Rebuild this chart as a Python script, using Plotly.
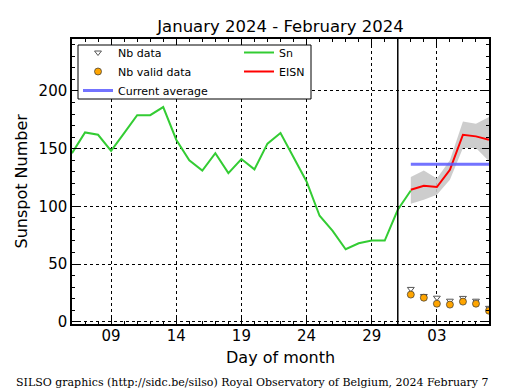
import plotly.graph_objects as go

# ---- data ----
sn_dates = ["2024-01-%02d" % d for d in range(6, 32)] + ["2024-02-01"]
sn_values = [146, 164, 162, 148, 163.5, 179, 179, 186, 157.7, 139.8, 131, 146,
             128.8, 141, 132, 154.3, 163.5, 142, 121.5, 91.8, 78.7, 62.8, 68,
             70.3, 70.3, 97, 113.7]

eisn_dates = ["2024-02-%02d" % d for d in range(1, 8)]
eisn_values = [114.3, 117.8, 116.7, 131.7, 162, 160.6, 157.7]
eisn_upper = [125.3, 131, 124, 140, 173.6, 171.6, 177.4]
eisn_lower = [102.2, 105.6, 110, 123, 150.5, 150.5, 139]

nb_data = [28.4, 22.3, 20.8, 18.2, 20.6, 18.2, 12]
nb_valid = [23.5, 20.8, 15.6, 14.8, 17.4, 15.6, 9.5]

avg_dates = ["2024-02-01", "2024-02-07 12:00"]
avg_values = [136.5, 136.5]

month_boundary = "2024-01-31"

FONT = "DejaVu Sans"
W, H = 507, 382  # page body has an 8px margin

fig = go.Figure()

# uncertainty band
fig.add_trace(go.Scatter(x=eisn_dates, y=eisn_lower, mode="lines",
                         line=dict(width=0, color="rgba(0,0,0,0)"),
                         showlegend=False, hoverinfo="skip"))
fig.add_trace(go.Scatter(x=eisn_dates, y=eisn_upper, mode="lines", fill="tonexty",
                         fillcolor="rgba(200,200,200,0.9)",
                         line=dict(width=0, color="rgba(0,0,0,0)"),
                         showlegend=False, hoverinfo="skip"))

fig.add_trace(go.Scatter(x=sn_dates, y=sn_values, mode="lines", name="Sn",
                         line=dict(color="#33cc33", width=2), legendrank=2))
fig.add_trace(go.Scatter(x=eisn_dates, y=eisn_values, mode="lines", name="EISN",
                         line=dict(color="#ff0000", width=2), legendrank=4))
fig.add_trace(go.Scatter(x=avg_dates, y=avg_values, mode="lines", name="Current average",
                         line=dict(color="rgba(90,90,255,0.85)", width=3), legendrank=5))
fig.add_trace(go.Scatter(x=eisn_dates, y=nb_data, mode="markers", name="Nb data",
                         marker=dict(symbol="triangle-down", size=6, color="white",
                                     line=dict(color="#555555", width=1)), legendrank=1))
fig.add_trace(go.Scatter(x=eisn_dates, y=nb_valid, mode="markers", name="Nb valid data",
                         marker=dict(symbol="circle", size=7, color="#ffa500",
                                     line=dict(color="#333333", width=0.7)), legendrank=3))

fig.add_shape(type="line", x0=month_boundary, x1=month_boundary, y0=0, y1=1,
              xref="x", yref="paper", line=dict(color="black", width=1.5))
# legend frame
fig.add_shape(type="rect", xref="paper", yref="paper",
              x0=6 / 417, x1=239 / 417, y0=1 - 60 / 285, y1=1 - 6 / 285,
              fillcolor="white", line=dict(color="black", width=1), layer="above")

axis_common = dict(showline=True, linecolor="black", linewidth=1.5, mirror="allticks",
                   ticks="inside", ticklen=7, tickwidth=1, tickcolor="black",
                   showgrid=True, gridcolor="black", gridwidth=0.8, griddash="dot",
                   zeroline=False, tickfont=dict(family=FONT, size=15, color="black"))

fig.update_xaxes(type="date", range=["2024-01-06", "2024-02-07"],
                 tick0="2024-01-09", dtick=5 * 86400000, tickformat="%d",
                 ticklabelstandoff=-3,
                 minor=dict(ticks="inside", ticklen=3, tick0="2024-01-09",
                            dtick=86400000, tickcolor="black", showgrid=False),
                 **axis_common)
fig.update_yaxes(range=[-2, 245], tick0=0, dtick=50,
                 minor=dict(ticks="inside", ticklen=3, dtick=10, tickcolor="black",
                            showgrid=False),
                 **axis_common)

fig.update_layout(
    width=W, height=H,
    margin=dict(l=64, r=26, t=31, b=66),
    paper_bgcolor="white", plot_bgcolor="white",
    font=dict(family=FONT, color="black"),
    title=dict(text="January 2024 - February 2024", x=0.5, xref="paper",
               y=1 - 18 / H, yref="container", yanchor="middle", xanchor="center",
               font=dict(family=FONT, size=16.5, color="black")),
    showlegend=True,
    legend=dict(orientation="h", x=0.0144, y=1 + 1 / 285, xanchor="left", yanchor="top",
                bgcolor="rgba(0,0,0,0)", borderwidth=0,
                entrywidth=116, entrywidthmode="pixels", traceorder="normal",
                font=dict(family=FONT, size=11, color="black")),
    annotations=[
        dict(text="Sunspot Number", xref="paper", yref="paper", x=0, y=0.5,
             xshift=-51, textangle=-90, showarrow=False, xanchor="center", yanchor="middle",
             font=dict(family=FONT, size=16, color="black")),
        dict(text="Day of month", xref="paper", yref="paper", x=0.5, y=0,
             yshift=-33, showarrow=False, xanchor="center", yanchor="middle",
             font=dict(family=FONT, size=16, color="black")),
        dict(text="SILSO graphics (http://sidc.be/silso) Royal Observatory of Belgium, 2024 February 7",
             xref="paper", yref="paper", x=(252 - 72) / 417, y=0, yshift=-58,
             showarrow=False, xanchor="center", yanchor="middle",
             font=dict(family="DejaVu Serif", size=11, color="black")),
    ],
)

fig.write_html("out.html")
